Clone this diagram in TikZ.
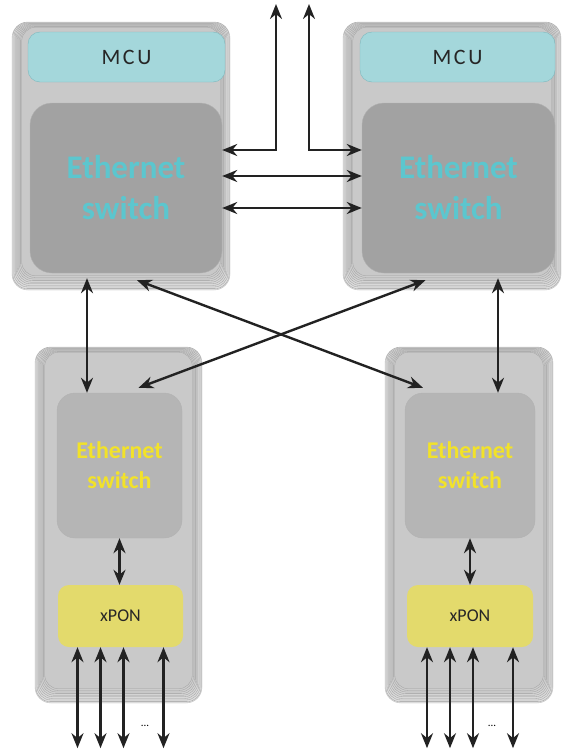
\documentclass[tikz,border=0pt]{standalone}
\usepackage{fontspec}
\setmainfont{Carlito}
\usetikzlibrary{positioning,arrows.meta}
\definecolor{mcucol}{HTML}{A4D7DB}
\definecolor{mcuedge}{HTML}{7DB9BF}
\definecolor{poncol}{HTML}{E3DA6C}
\definecolor{cyantext}{HTML}{5CC6CE}
\definecolor{yeltext}{HTML}{F2E229}
\definecolor{swcol}{HTML}{A2A2A2}
\definecolor{swcolb}{HTML}{B5B5B5}
\definecolor{linkcol}{HTML}{222222}

\begin{document}
\begin{tikzpicture}
[x=1pt,y=-1pt,
card/.style = {draw=gray!50, fill=black!12, rounded corners=16pt, line width=0.4pt},
contour/.style = {draw=gray!75, line width=0.3pt, rounded corners=14pt},
mcu/.style = {draw=mcuedge, fill=mcucol, rounded corners=12pt, minimum height=50pt,
  font=\fontsize{22}{24}\selectfont\addfontfeature{LetterSpace=12}, text=black!85},
bigsw/.style = {draw=gray!60, fill=swcol, rounded corners=22pt, minimum height=170pt,
  align=center, text=cyantext, font=\fontsize{33}{41}\selectfont\bfseries},
smallsw/.style = {draw=gray!60, fill=swcolb, rounded corners=18pt, minimum height=145pt,
  align=center, text=yeltext, font=\fontsize{24}{30}\selectfont\bfseries},
pon/.style = {fill=poncol, rounded corners=11pt, minimum height=62pt,
  text=black!85, font=\fontsize{18}{20}\selectfont},
link/.style = {{Stealth[length=15pt,width=12pt]}-{Stealth[length=15pt,width=12pt]},
  draw=linkcol, line width=2.4pt},
]
\useasboundingbox (0,0) rectangle (563,755);
\node[card, minimum width=218pt, minimum height=268pt] (cTL) at (121,156) {};
\node[card, minimum width=218pt, minimum height=268pt] (cTR) at (452,156) {};
\node[card, minimum width=167pt, minimum height=356pt] (cBL) at (118.5,525) {};
\node[card, minimum width=168pt, minimum height=356pt] (cBR) at (469,525) {};
\foreach \c in {cTL,cTR,cBL,cBR}
  \foreach \i in {1,...,9} {
    \pgfmathtruncatemacro{\g}{12+\i}
    \draw[contour, fill=black!\g] ([shift={(1.1*\i,0.6*\i)}]\c.north west)
      rectangle ([shift={(-1.1*\i,-1.6*\i)}]\c.south east);
  }
\node[mcu, minimum width=197pt] (mcuL) at (126.5,57) {MCU};
\node[mcu, minimum width=195pt] (mcuR) at (457.5,57) {MCU};
\node[bigsw, minimum width=192pt] (swL) at (126,188) {Ethernet\\switch};
\node[bigsw, minimum width=193pt] (swR) at (458.5,188) {Ethernet\\switch};
\node[smallsw, minimum width=125pt] (swBL) at (119.5,465.5) {Ethernet\\switch};
\node[smallsw, minimum width=130pt] (swBR) at (470,465.5) {Ethernet\\switch};
\node[pon, minimum width=125pt] (ponBL) at (120.5,616) {xPON};
\node[pon, minimum width=126pt] (ponBR) at (470,616) {xPON};
\node[font=\fontsize{11}{12}\selectfont] (dotsL) at (145,726) {...};
\node[font=\fontsize{11}{12}\selectfont] (dotsR) at (492,726) {...};
\coordinate (r1) at (0,150);
\coordinate (r2) at (0,176);
\coordinate (r3) at (0,208);
\coordinate (topL) at (276,4);
\coordinate (topR) at (309,4);
\coordinate (colL) at (87,0);
\coordinate (colR) at (498,0);
\draw[link] (swL.east |- r1) -| (topL);
\draw[link] (swR.west |- r1) -| (topR);
\draw[link] (swL.east |- r2) -- (swR.west |- r2);
\draw[link] (swL.east |- r3) -- (swR.west |- r3);
\draw[link] ([yshift=-5pt]colL |- swL.south) -- (colL |- swBL.north);
\draw[link] ([yshift=-5pt]colR |- swR.south) -- (colR |- swBR.north);
\draw[link] ([xshift=11pt,yshift=-7pt]swL.south) -- ([xshift=-47pt,yshift=5pt]swBR.north);
\draw[link] ([xshift=-33pt,yshift=-7pt]swR.south) -- ([xshift=19pt,yshift=5pt]swBL.north);
\draw[link] (swBL.south) -- (swBL.south |- ponBL.north);
\draw[link] (swBR.south) -- (swBR.south |- ponBR.north);
\foreach \dx in {-43,-20,3,43} {
  \draw[link] ([xshift=\dx pt]ponBL.south) -- ++(0,101);
  \draw[link] ([xshift=\dx pt]ponBR.south) -- ++(0,101);
}
\end{tikzpicture}
\end{document}
